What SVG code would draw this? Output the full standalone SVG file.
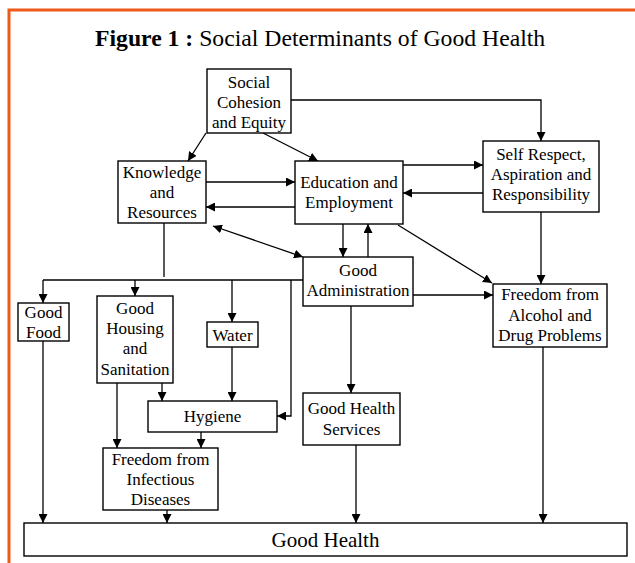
<svg xmlns="http://www.w3.org/2000/svg" width="635" height="563" viewBox="0 0 635 563">
<style>
.box{fill:#fff;stroke:#000;stroke-width:1.4}
.t{font-family:"Liberation Serif","Times New Roman",serif;font-size:17px;fill:#000;text-anchor:middle}
.big{font-size:21px}
.c{fill:none;stroke:#000;stroke-width:1.3}
.a{marker-end:url(#ah)}
</style>
<defs>
<marker id="ah" markerUnits="userSpaceOnUse" markerWidth="10" markerHeight="9" refX="9" refY="4.5" orient="auto-start-reverse" viewBox="0 0 10 9">
<path d="M0,0 L9,4.5 L0,9 z" fill="#000"/>
</marker>
</defs>
<rect width="635" height="563" fill="#fff"/>
<path d="M9,563 V10 H635" fill="none" stroke="#EE5A1A" stroke-width="3"/>
<text x="95" y="46" font-family="Liberation Serif,'Times New Roman',serif" font-size="23.7"><tspan font-weight="bold">Figure 1 :</tspan> Social Determinants of Good Health</text>

<g id="connectors">
<line class="c a" x1="206" y1="133" x2="188" y2="161"/>
<line class="c a" x1="263" y1="133" x2="318" y2="161"/>
<polyline class="c a" points="291,100 541,100 541,141"/>
<line class="c a" x1="206" y1="182" x2="295" y2="182"/>
<line class="c a" x1="295" y1="207" x2="206" y2="207"/>
<line class="c a" x1="403" y1="165" x2="483" y2="165"/>
<line class="c a" x1="483" y1="193" x2="403" y2="193"/>
<line class="c a" x1="213" y1="226" x2="303" y2="257" marker-start="url(#ah)"/>
<line class="c a" x1="343" y1="224" x2="343" y2="257"/>
<line class="c a" x1="368" y1="257" x2="368" y2="224"/>
<line class="c a" x1="398" y1="225" x2="492" y2="283"/>
<line class="c a" x1="541" y1="212" x2="541" y2="284"/>
<line class="c a" x1="413" y1="295" x2="493" y2="295"/>
<line class="c" x1="164" y1="223" x2="164" y2="277"/>
<line class="c" x1="43" y1="280" x2="303" y2="280"/>
<line class="c a" x1="43" y1="280" x2="43" y2="303"/>
<line class="c a" x1="135" y1="280" x2="135" y2="296"/>
<line class="c a" x1="232" y1="280" x2="232" y2="322"/>
<polyline class="c a" points="291,280 291,416 277,416"/>
<line class="c a" x1="232" y1="347" x2="232" y2="401"/>
<line class="c a" x1="162" y1="383" x2="162" y2="401"/>
<line class="c a" x1="117" y1="383" x2="117" y2="448"/>
<line class="c a" x1="201" y1="432" x2="201" y2="448"/>
<line class="c a" x1="351" y1="306" x2="351" y2="393"/>
<line class="c a" x1="43" y1="341" x2="43" y2="523"/>
<line class="c a" x1="167" y1="510" x2="167" y2="523"/>
<line class="c a" x1="356" y1="445" x2="356" y2="523"/>
<line class="c a" x1="543" y1="347" x2="543" y2="523"/>
</g>

<g id="social-cohesion">
<rect class="box" x="207" y="69" width="84" height="64"/>
<text class="t" x="249" y="88">Social</text>
<text class="t" x="249" y="108">Cohesion</text>
<text class="t" x="249" y="128">and Equity</text>
</g>
<g id="knowledge">
<rect class="box" x="118" y="161" width="88" height="62"/>
<text class="t" x="162" y="178">Knowledge</text>
<text class="t" x="162" y="198">and</text>
<text class="t" x="162" y="218">Resources</text>
</g>
<g id="education">
<rect class="box" x="295" y="161" width="108" height="63"/>
<text class="t" x="349" y="188">Education and</text>
<text class="t" x="349" y="208">Employment</text>
</g>
<g id="self-respect">
<rect class="box" x="483" y="141" width="116" height="71"/>
<text class="t" x="541" y="160">Self Respect,</text>
<text class="t" x="541" y="180">Aspiration and</text>
<text class="t" x="541" y="200">Responsibility</text>
</g>
<g id="administration">
<rect class="box" x="303" y="257" width="110" height="49"/>
<text class="t" x="358" y="276">Good</text>
<text class="t" x="358" y="296">Administration</text>
</g>
<g id="freedom-alcohol">
<rect class="box" x="493" y="284" width="114" height="63"/>
<text class="t" x="550" y="300">Freedom from</text>
<text class="t" x="550" y="321">Alcohol and</text>
<text class="t" x="550" y="341">Drug Problems</text>
</g>
<g id="good-food">
<rect class="box" x="18" y="303" width="51" height="38"/>
<text class="t" x="43.5" y="318">Good</text>
<text class="t" x="43.5" y="338">Food</text>
</g>
<g id="good-housing">
<rect class="box" x="97" y="296" width="76" height="87"/>
<text class="t" x="135" y="314">Good</text>
<text class="t" x="135" y="334">Housing</text>
<text class="t" x="135" y="354">and</text>
<text class="t" x="135" y="375">Sanitation</text>
</g>
<g id="water">
<rect class="box" x="207" y="322" width="51" height="25"/>
<text class="t" x="232.5" y="341">Water</text>
</g>
<g id="hygiene">
<rect class="box" x="148" y="401" width="129" height="31"/>
<text class="t" x="212.5" y="422">Hygiene</text>
</g>
<g id="freedom-infectious">
<rect class="box" x="103" y="448" width="115" height="62"/>
<text class="t" x="160.5" y="465">Freedom from</text>
<text class="t" x="160.5" y="485">Infectious</text>
<text class="t" x="160.5" y="505">Diseases</text>
</g>
<g id="health-services">
<rect class="box" x="303" y="393" width="97" height="52"/>
<text class="t" x="351.5" y="414">Good Health</text>
<text class="t" x="351.5" y="435">Services</text>
</g>
<g id="good-health">
<rect class="box" x="24" y="523" width="603" height="33"/>
<text class="t big" x="325.5" y="547">Good Health</text>
</g>
</svg>
